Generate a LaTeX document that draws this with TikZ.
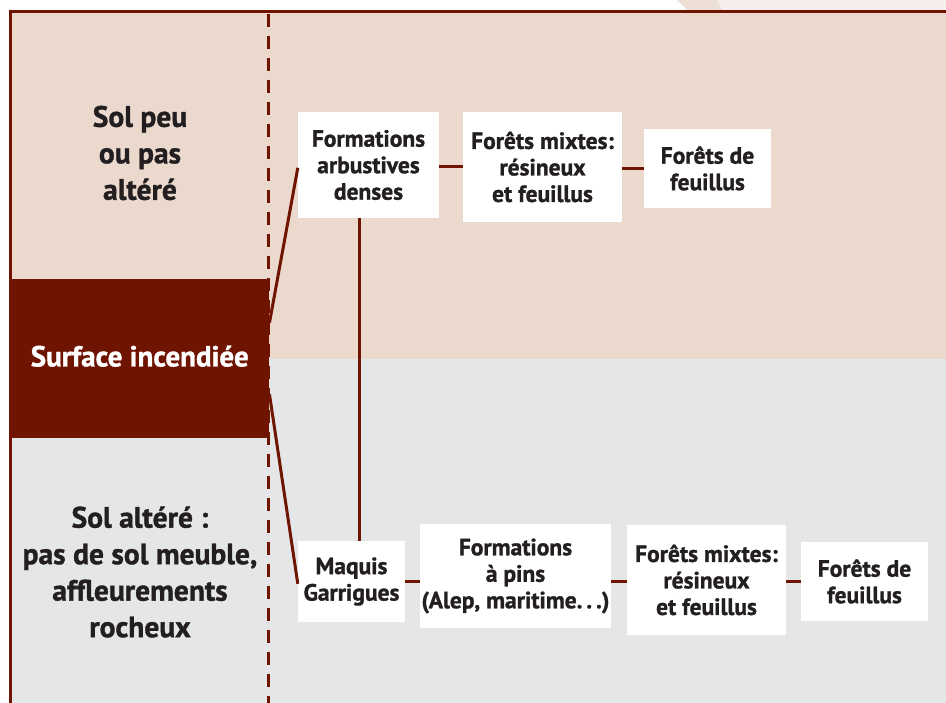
\documentclass[tikz,border=0pt]{standalone}
\usepackage{fontspec}
\setmainfont{PT Sans}[BoldFeatures={FakeBold=1.2}]
\definecolor{rouge}{HTML}{6E1400}
\definecolor{rose}{HTML}{EBD9CE}
\definecolor{gris}{HTML}{E5E6E8}
\definecolor{encre}{HTML}{231F20}
\definecolor{stripeA}{HTML}{EEDFD6}
\definecolor{stripeB}{HTML}{F6EEEA}
\begin{document}
\begin{tikzpicture}[x=1pt,y=-1pt,
  box/.style={fill=white, inner sep=0pt, align=center, text=encre,
    font=\bfseries\fontsize{23.5}{26.5}\selectfont},
  side/.style={align=center, text=encre, inner sep=0pt,
    font=\bfseries\fontsize{29.5}{36.5}\selectfont},
  link/.style={draw=rouge, line width=3pt},
  frame/.style={draw=rouge, line width=3pt}]
\useasboundingbox (0,0) rectangle (946,703);
% top stripes
\fill[stripeA] (677,0) -- (717,0) -- (723,11) -- (688,11) -- cycle;
\fill[stripeB] (717,0) -- (946,0) -- (946,11) -- (723,11) -- cycle;
% backgrounds
\fill[rose] (10.5,12) rectangle (946,359);
\fill[gris] (10.5,359) rectangle (946,703);
\draw[frame] (10.5,703) -- (10.5,12) -- (946,12);
% dashed separator
\draw[rouge, line width=2.6pt, dash pattern=on 13pt off 9pt] (268.5,14) -- (268.5,703);
% burnt surface
\node[fill=rouge, minimum width=259pt, minimum height=159pt, inner sep=0pt,
  text=white, font=\bfseries\fontsize{29}{34}\selectfont] (surf) at (139.75,358.5) {\raisebox{5pt}{Surface incendiée}};
% side labels
\node[side] (top) at (140,153) {Sol peu\\ou pas\\altéré};
\node[side] (bot) at (140,572) {Sol altéré :\\pas de sol meuble,\\affleurements\\rocheux};
% boxes top
\node[box, minimum width=141pt, minimum height=106pt] (b1) at (368.5,165) {Formations\\arbustives\\denses};
\node[box, minimum width=159pt, minimum height=110pt] (b2) at (542.5,167) {Forêts mixtes:\\résineux\\et feuillus};
\node[box, minimum width=127pt, minimum height=79pt] (b3) at (707.5,168.5) {Forêts de\\feuillus};
% boxes bottom
\node[box, minimum width=107pt, minimum height=81pt] (maq) at (351.5,581.5) {Maquis\\Garrigues};
\node[box, minimum width=191pt, minimum height=104pt] (pins) at (515.5,576) {Formations\\à pins\\(Alep, maritime.\,.\,.)};
\node[box, minimum width=159pt, minimum height=110pt] (mixb) at (706.5,580) {Forêts mixtes:\\résineux\\et feuillus};
\node[box, minimum width=127pt, minimum height=79pt] (feub) at (864.5,581.5) {Forêts de\\feuillus};
% links
\draw[link] ([yshift=-44pt]surf.north east) -- ([yshift=-56pt]b1.north west);
\draw[link] ([yshift=44pt]surf.south east) -- ([yshift=-43pt]maq.north west);
\draw[link] ([xshift=62pt]b1.south west) -- ([xshift=62pt]maq.north west);
\draw[link] (b1.east |- b2.center) -- (b2.west);
\draw[link] (b2.east |- b3.center) -- (b3.west);
\draw[link] (maq.east) -- (maq.east -| pins.west);
\draw[link] (pins.east |- maq.east) -- (mixb.west |- maq.east);
\draw[link] (mixb.east |- maq.east) -- (feub.west);
\end{tikzpicture}
\end{document}
